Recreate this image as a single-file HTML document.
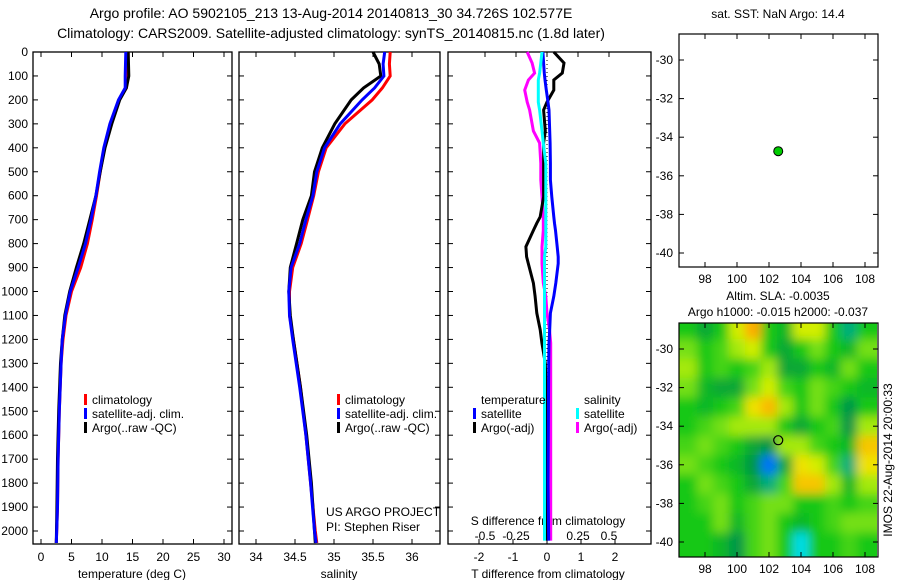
<!DOCTYPE html>
<html><head><meta charset="utf-8"><style>
html,body{margin:0;padding:0;background:#fff;}
svg{display:block;font-family:"Liberation Sans",sans-serif;}
text{font-size:12px;fill:#000;}
</style></head><body>
<svg id="chart" width="900" height="580" viewBox="0 0 900 580" xmlns="http://www.w3.org/2000/svg">
<defs>
<filter id="blur" x="-10%" y="-10%" width="120%" height="120%"><feGaussianBlur stdDeviation="5"/></filter>
<clipPath id="mapclip"><rect x="679" y="323" width="198" height="234"/></clipPath>
</defs>
<text x="331" y="18" text-anchor="middle" style="font-size:14px">Argo profile: AO 5902105_213 13-Aug-2014 20140813_30 34.726S 102.577E</text>
<text x="331" y="38" text-anchor="middle" style="font-size:14px">Climatology: CARS2009. Satellite-adjusted climatology: synTS_20140815.nc (1.8d later)</text>
<text x="778" y="18" text-anchor="middle">sat. SST: NaN Argo: 14.4</text>
<text x="778" y="300" text-anchor="middle">Altim. SLA: -0.0035</text>
<text x="778" y="316" text-anchor="middle">Argo h1000: -0.015 h2000: -0.037</text>
<text transform="translate(892,460) rotate(-90)" text-anchor="middle">IMOS 22-Aug-2014 20:00:33</text>
<g id="g"></g>
</svg>
<script>
// ---------- data ----------
const depthT = [0,100,150,200,300,400,500,600,700,800,900,1000,1100,1200,1300,1500,1700,1900,2050];
const tempClim = [14.3,14.2,14.0,12.8,11.4,10.4,9.7,9.1,8.4,7.6,6.5,5.0,4.1,3.6,3.3,3.0,2.8,2.7,2.5];
const tempSat  = [13.9,13.8,13.8,12.7,11.3,10.3,9.6,9.0,8.2,7.3,6.1,4.8,4.0,3.5,3.3,3.0,2.8,2.7,2.5];
const tempArgo = [14.3,14.4,14.0,12.9,11.6,10.5,9.7,9.0,8.0,7.0,5.8,4.7,3.9,3.5,3.2,2.9,2.7,2.6,2.5];
const depthS = [0,50,100,150,200,300,400,500,600,700,800,900,1000,1100,1200,1400,1600,1800,2000,2050];
const salClim = [35.72,35.71,35.72,35.62,35.49,35.14,34.9,34.8,34.74,34.66,34.58,34.47,34.43,34.43,34.48,34.57,34.64,34.7,34.76,34.78];
const salSat  = [35.65,35.63,35.64,35.52,35.36,35.08,34.88,34.78,34.73,34.64,34.56,34.45,34.42,34.43,34.47,34.56,34.64,34.7,34.75,34.77];
const salArgo = [35.5,35.58,35.6,35.38,35.22,35.01,34.85,34.75,34.71,34.6,34.52,34.44,34.42,34.44,34.48,34.57,34.65,34.71,34.75,34.76];
const depthD = [0,46,88,117,159,209,242,330,380,465,534,605,688,715,745,813,855,883,965,1020,1090,1160,1215,1300,1500,1800,2040];
const dTsat  = [-0.12,-0.1,-0.08,-0.06,-0.02,0.03,0.06,0.08,0.09,0.1,0.1,0.14,0.2,0.22,0.25,0.3,0.33,0.33,0.26,0.2,0.1,0.08,0.06,0.05,0.04,0.03,0.05];
const dTargo = [0.2,0.5,0.45,0.2,0.2,0.0,-0.1,-0.05,-0.1,-0.1,-0.1,-0.1,-0.2,-0.3,-0.4,-0.62,-0.6,-0.55,-0.4,-0.35,-0.3,-0.2,-0.15,-0.05,0.0,0.0,0.0];
const dSsat  = [-0.04,-0.05,-0.06,-0.07,-0.07,-0.07,-0.06,-0.04,-0.03,-0.01,-0.01,-0.01,-0.01,-0.01,-0.01,-0.01,-0.02,-0.02,-0.02,-0.02,-0.02,-0.02,-0.02,-0.02,-0.02,-0.02,-0.02];
const dSargo = [-0.16,-0.12,-0.1,-0.15,-0.18,-0.16,-0.14,-0.11,-0.06,-0.05,-0.05,-0.04,-0.03,-0.03,-0.03,-0.04,-0.04,-0.04,-0.03,-0.01,0.0,0.02,0.03,0.03,0.03,0.03,0.03];
const depthTicks = [0,100,200,300,400,500,600,700,800,900,1000,1100,1200,1300,1400,1500,1600,1700,1800,1900,2000];
const tempTicks = [0,5,10,15,20,25,30];
const salTicks = [34,34.5,35,35.5,36];
const dTTicks = [-2,-1,0,1,2];
const dSTicks = [-0.5,-0.25,0,0.25,0.5];
const dSTickLabels = ["-0.5","-0.25","0","0.25","0.5"];
const latTicks = [-30,-32,-34,-36,-38,-40];
const lonTicks = [98,100,102,104,106,108];
const argoLon = 102.577, argoLat = -34.726;
const slaLons = [97,98,99,100,101,102,103,104,105,106,107,108];
const slaLats = [-29,-30,-31,-32,-33,-34,-35,-36,-37,-38,-39,-40];
const slaRows = [
 [0,-0.2,0,0.4,0.7,0,-0.1,0.4,0.4,0,-0.4,0],
 [0.2,0,0.1,0.3,0.4,0,-0.2,0,0.2,0,-0.1,0.2],
 [0.3,0,0.1,0,0.1,0.3,-0.2,-0.2,0,-0.1,0.2,0],
 [0.2,-0.1,-0.2,-0.2,0.2,0.4,0.1,0,0.2,0.1,0,-0.1],
 [0,-0.1,0,0.1,0.5,0.65,0.3,0,0.2,0,-0.3,0],
 [0,0.1,0.2,0.3,0.3,0.3,0,-0.2,0,0.1,-0.3,0.3],
 [0.1,0.2,0.1,0,-0.2,-0.3,0.3,0.3,0.1,0,-0.1,0.6],
 [0.2,0.1,0,-0.1,-0.3,-0.9,-0.2,0.5,0.4,0.1,-0.4,0.5],
 [0,0.2,0.1,0,-0.2,-0.4,0.1,0.6,0.6,0.3,-0.1,0.3],
 [0,0.1,0.2,0,0.1,0.2,0.2,0,0,0.1,0,0.1],
 [0,0,0.2,-0.1,0.1,0.2,0,-0.1,0,0.1,0.2,0.2],
 [0,0,-0.1,-0.3,0.1,0.2,0,-0.6,0,0,0.1,0]
];
// ---------- helpers ----------
const NS='http://www.w3.org/2000/svg';
const G=document.getElementById('g');
function mk(tag,attrs,parent){const e=document.createElementNS(NS,tag);for(const k in attrs)e.setAttribute(k,attrs[k]);(parent||G).appendChild(e);return e;}
function txt(x,y,s,anchor,parent){const t=mk('text',{x:x,y:y,'text-anchor':anchor||'start'},parent);t.textContent=s;return t;}
const Y0=52, PXD=0.2395;
const yD=d=>Y0+d*PXD;
const xT=v=>41+v*6.1;
const xS=v=>256+(v-34)*78;
const xDT=v=>547+v*34;
const xDS=v=>547+v*124;
const mx=lon=>705+(lon-98)*16;
const my1=lat=>60+(-30-lat)*19.3;
const my2=lat=>349+(-30-lat)*19.3;

function frame(x0,x1,name){
  const r=mk('rect',{x:x0,y:Y0,width:x1-x0,height:544-Y0,fill:'none',stroke:'#000','stroke-width':1.3});
  
  
  depthTicks.forEach(d=>{mk('line',{x1:x0,x2:x0+5,y1:yD(d),y2:yD(d),stroke:'#000'});mk('line',{x1:x1,x2:x1-5,y1:yD(d),y2:yD(d),stroke:'#000'});});
}
function profile(xf,depths,vals,color,name,w){
  const pts=depths.map((d,i)=>xf(vals[i]).toFixed(1)+','+yD(d).toFixed(1)).join(' ');
  const p=mk('polyline',{points:pts,fill:'none',stroke:color,'stroke-width':w||3,'stroke-linejoin':'miter'});
  
  
}
function legendEntry(x,y,color,label,name){
  const g=mk('g',{});
  
  
  mk('rect',{x:x,y:y-10,width:3,height:11,fill:color},g);
  txt(x+8,y,label,'start',g);
}

// Panel 1 temperature
frame(33,232,'temperature-panel');
depthTicks.forEach(d=>{const t=txt(28,yD(d)+4,String(d),'end');});
tempTicks.forEach(v=>{mk('line',{x1:xT(v),x2:xT(v),y1:544,y2:539,stroke:'#000'});mk('line',{x1:xT(v),x2:xT(v),y1:Y0,y2:Y0+5,stroke:'#000'});txt(xT(v),561,String(v),'middle');});
txt(132,578,'temperature (deg C)','middle');
profile(xT,depthT,tempClim,'#f00','temp-climatology-line');
profile(xT,depthT,tempArgo,'#000','temp-argo-line');
profile(xT,depthT,tempSat,'#00f','temp-satellite-line');
legendEntry(84,404,'#f00','climatology','legend-climatology');
legendEntry(84,418,'#00f','satellite-adj. clim.','legend-satellite');
legendEntry(84,432,'#000','Argo(..raw -QC)','legend-argo');

// Panel 2 salinity
frame(239,440,'salinity-panel');
salTicks.forEach(v=>{mk('line',{x1:xS(v),x2:xS(v),y1:544,y2:539,stroke:'#000'});mk('line',{x1:xS(v),x2:xS(v),y1:Y0,y2:Y0+5,stroke:'#000'});txt(xS(v),561,String(v),'middle');});
txt(339,578,'salinity','middle');
profile(xS,depthS,salClim,'#f00','sal-climatology-line');
profile(xS,depthS,salArgo,'#000','sal-argo-line');
profile(xS,depthS,salSat,'#00f','sal-satellite-line');
legendEntry(337,404,'#f00','climatology','legend-climatology-2');
legendEntry(337,418,'#00f','satellite-adj. clim.','legend-satellite-2');
legendEntry(337,432,'#000','Argo(..raw -QC)','legend-argo-2');
txt(326,516,'US ARGO PROJECT','start');
txt(326,531,'PI: Stephen Riser','start');

// Panel 3 differences
frame(448,651,'difference-panel');
mk('line',{x1:xDT(0),x2:xDT(0),y1:Y0,y2:544,stroke:'#000','stroke-dasharray':'1,3'});
dTTicks.forEach(v=>{mk('line',{x1:xDT(v),x2:xDT(v),y1:544,y2:539,stroke:'#000'});txt(xDT(v),561,String(v),'middle');});
dSTicks.forEach((v,i)=>{mk('line',{x1:xDS(v),x2:xDS(v),y1:Y0,y2:Y0+5,stroke:'#000'});txt(xDS(v),540,dSTickLabels[i],'middle');});
txt(548,525,'S difference from climatology','middle');
txt(548,578,'T difference from climatology','middle');
profile(xDS,depthD,dSargo,'#f0f','s-argo-diff-line');
profile(xDT,depthD,dTargo,'#000','t-argo-diff-line');
profile(xDT,depthD,dTsat,'#00f','t-satellite-diff-line');
profile(xDS,depthD,dSsat,'#0ff','s-satellite-diff-line');
txt(481,404,'temperature','start');
txt(584,404,'salinity','start');
legendEntry(473,418,'#00f','satellite','legend-t-satellite');
legendEntry(473,432,'#000','Argo(-adj)','legend-t-argo');
legendEntry(576,418,'#0ff','satellite','legend-s-satellite');
legendEntry(576,432,'#f0f','Argo(-adj)','legend-s-argo');

// Map axes helper
function mapAxes(top,bot,myf,name){
  const r=mk('rect',{x:679,y:top,width:199,height:bot-top,fill:'none',stroke:'#000','stroke-width':1.2});
  
  
  latTicks.forEach(l=>{const y=myf(l);mk('line',{x1:679,x2:684,y1:y,y2:y,stroke:'#000'});mk('line',{x1:878,x2:873,y1:y,y2:y,stroke:'#000'});txt(673,y+4,String(l),'end');});
  lonTicks.forEach(l=>{const x=mx(l);mk('line',{x1:x,x2:x,y1:bot,y2:bot-5,stroke:'#000'});mk('line',{x1:x,x2:x,y1:top,y2:top+5,stroke:'#000'});txt(x,bot+16,String(l),'middle');});
}
// Map 1 SST
mapAxes(34,267,my1,'sst-map');
const dot=mk('circle',{cx:mx(argoLon),cy:my1(argoLat),r:4.5,fill:'#0c0',stroke:'#000','stroke-width':1});



// Map 2 SLA heatmap
function slaColor(v){
  const stops=[[-1,[0,80,255]],[-0.6,[0,220,230]],[-0.3,[0,150,70]],[0,[20,200,20]],[0.25,[140,230,20]],[0.45,[235,240,0]],[0.7,[255,170,0]]];
  if(v<=stops[0][0])return 'rgb('+stops[0][1]+')';
  for(let i=1;i<stops.length;i++){if(v<=stops[i][0]){const a=stops[i-1],b=stops[i];const t=(v-a[0])/(b[0]-a[0]);return 'rgb('+a[1].map((c,k)=>Math.round(c+(b[1][k]-c)*t)).join(',')+')';}}
  return 'rgb('+stops[stops.length-1][1]+')';
}
const hm=mk('g',{'clip-path':'url(#mapclip)'});


mk('rect',{x:679,y:323,width:199,height:234,fill:slaColor(0.05)},hm);
const hb=mk('g',{filter:'url(#blur)'},hm);
slaRows.forEach((row,i)=>row.forEach((v,j)=>{
  let x0=mx(slaLons[j]-0.5),x1=mx(slaLons[j]+0.5),y0=my2(slaLats[i]+0.5),y1=my2(slaLats[i]-0.5);
  if(j===0)x0-=20; if(j===row.length-1)x1+=20; if(i===0)y0-=20; if(i===slaRows.length-1)y1+=20;
  const c=mk('rect',{x:x0,y:y0,width:x1-x0+0.5,height:y1-y0+0.5,fill:slaColor(v)},hb);
  
  
}));
mapAxes(323,557,my2,'sla-map');
const ring=mk('circle',{cx:mx(argoLon),cy:my2(argoLat),r:4.5,fill:'none',stroke:'#000','stroke-width':1.2});


</script>
</body></html>
